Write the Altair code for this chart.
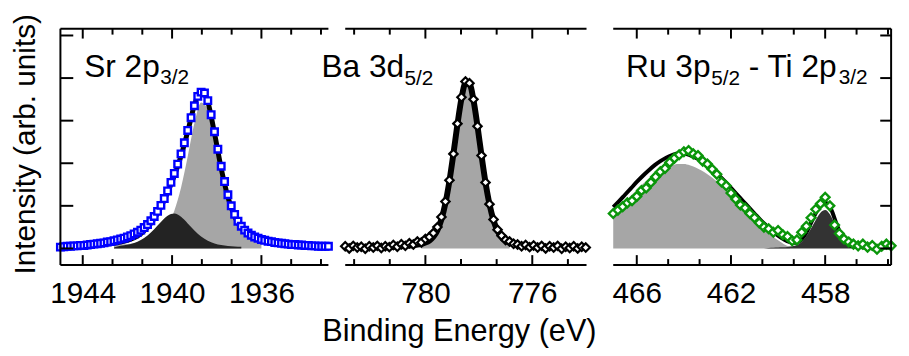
import altair as alt
import pandas as pd

FONT = "Liberation Sans"

# ---------------- data: binding-energy grids (start, step) and intensities (arb. units) ----------------
# Sr 2p3/2
SR_DATA_START, SR_DATA_STEP = 1945.0, 0.15
sr_data = [0.03, 0.04, 0.05, 0.05, 0.06, 0.06, 0.07, 0.07, 0.08, 0.09,
           0.10, 0.11, 0.12, 0.13, 0.15, 0.16, 0.18, 0.20, 0.22, 0.24,
           0.27, 0.30, 0.34, 0.38, 0.43, 0.49, 0.56, 0.65, 0.75, 0.87,
           1.01, 1.17, 1.35, 1.55, 1.76, 1.98, 2.22, 2.48, 2.77, 3.07,
           3.35, 3.57, 3.67, 3.65, 3.47, 3.14, 2.74, 2.33, 1.93, 1.57,
           1.26, 1.00, 0.80, 0.64, 0.52, 0.43, 0.36, 0.31, 0.27, 0.24,
           0.21, 0.19, 0.17, 0.16, 0.14, 0.13, 0.12, 0.11, 0.10, 0.09,
           0.09, 0.08, 0.08, 0.07, 0.07, 0.06, 0.06, 0.05, 0.05, 0.05, 0.05]
SR_FIT_START, SR_FIT_STEP = 1942.9, 0.3
sr_fit = [0.104, 0.123, 0.150, 0.190, 0.251, 0.346, 0.492, 0.697, 0.972, 1.312,
          1.706, 2.170, 2.746, 3.360, 3.705, 3.445, 2.704, 1.879, 1.208, 0.750,
          0.477, 0.325, 0.240, 0.187, 0.155, 0.129, 0.110, 0.095, 0.082, 0.073,
          0.064, 0.057, 0.051, 0.047]
SR_MAIN_START, SR_MAIN_STEP = 1942.6, 0.3
sr_main = [0.075, 0.088, 0.103, 0.122, 0.147, 0.186, 0.245, 0.351, 0.545, 0.886,
           1.427, 2.159, 2.939, 3.424, 3.263, 2.586, 1.798, 1.149, 0.704, 0.440,
           0.294, 0.214, 0.164]
SR_SEC_START, SR_SEC_STEP = 1942.6, 0.3
sr_sec = [0.02, 0.062, 0.087, 0.129, 0.199, 0.306, 0.452, 0.621, 0.767, 0.820,
          0.743, 0.587, 0.421, 0.281, 0.182, 0.118, 0.081, 0.059, 0.046, 0.037]

# Ba 3d5/2
BA_DATA_START, BA_DATA_STEP = 783.0, 0.15
ba_data = [0.05, 0.00, 0.06, 0.02, 0.04, -0.01, 0.05, 0.02, 0.06, 0.01,
           0.05, 0.03, 0.08, 0.04, 0.10, 0.06, 0.12, 0.09, 0.16, 0.14,
           0.22, 0.27, 0.36, 0.50, 0.74, 1.10, 1.60, 2.22, 2.93, 3.55,
           3.92, 3.88, 3.50, 2.87, 2.18, 1.55, 1.04, 0.68, 0.44, 0.30,
           0.20, 0.16, 0.11, 0.09, 0.05, 0.08, 0.03, 0.07, 0.02, 0.06,
           0.00, 0.05, 0.02, 0.06, -0.01, 0.04, 0.01, 0.05, 0.00, 0.04, 0.02]
BA_FIT_START, BA_FIT_STEP = 781.5, 0.15
ba_fit = [0.034, 0.037, 0.041, 0.046, 0.051, 0.058, 0.065, 0.076, 0.088, 0.107,
          0.136, 0.186, 0.276, 0.429, 0.681, 1.063, 1.586, 2.228, 2.915, 3.517,
          3.877, 3.863, 3.483, 2.870, 2.183, 1.548, 1.033, 0.661, 0.416, 0.267,
          0.182, 0.134, 0.105, 0.087, 0.074, 0.065, 0.057, 0.051, 0.045, 0.041, 0.037]
BA_MAIN_START, BA_MAIN_STEP = 780.15, 0.15
ba_main = [0.107, 0.136, 0.186, 0.276, 0.429, 0.681, 1.063, 1.586, 2.228, 2.915,
           3.517, 3.877, 3.863, 3.483, 2.870, 2.183, 1.548, 1.033, 0.661, 0.416,
           0.267, 0.182, 0.134]

# Ru 3p5/2 - Ti 2p3/2
RT_DATA_START, RT_DATA_STEP = 467.0, 0.2
rt_data = [0.82, 0.90, 0.98, 1.07, 1.12, 1.22, 1.36, 1.42, 1.55, 1.68,
           1.80, 1.88, 2.02, 2.12, 2.20, 2.27, 2.30, 2.22, 2.18, 2.05,
           1.98, 1.86, 1.74, 1.56, 1.47, 1.30, 1.16, 1.02, 0.95, 0.82,
           0.72, 0.60, 0.50, 0.46, 0.38, 0.42, 0.32, 0.28, 0.18, 0.20,
           0.38, 0.52, 0.72, 0.92, 1.05, 1.20, 1.00, 0.55, 0.35, 0.22,
           0.15, 0.10, 0.06, 0.10, 0.03, 0.07, -0.02, 0.05, 0.10, 0.06]
RT_FIT_START, RT_FIT_STEP = 467.0, 0.25
rt_fit = [0.97, 1.11, 1.26, 1.41, 1.56, 1.70, 1.83, 1.95, 2.05, 2.13,
          2.19, 2.23, 2.23, 2.19, 2.13, 2.05, 1.95, 1.84, 1.71, 1.57,
          1.42, 1.27, 1.12, 0.97, 0.82, 0.67, 0.54, 0.415, 0.30, 0.21,
          0.15, 0.13, 0.22, 0.42, 0.72, 0.98, 1.08, 0.92, 0.55, 0.24,
          0.09, 0.04, 0.03, 0.02, 0.02, 0.02, 0.02, 0.02]
RU_START, RU_STEP = 467.0, 0.25
ru_main = [0.83, 0.96, 1.10, 1.24, 1.38, 1.51, 1.63, 1.74, 1.83, 1.90,
           1.95, 1.98, 1.98, 1.95, 1.90, 1.83, 1.74, 1.64, 1.52, 1.39,
           1.25, 1.11, 0.97, 0.83, 0.69, 0.55, 0.42, 0.30, 0.19, 0.10, 0.04]
TI_START, TI_STEP = 460.6, 0.2
ti_main = [0.0, 0.01, 0.015, 0.02, 0.025, 0.035, 0.05, 0.08, 0.15, 0.29,
           0.47, 0.67, 0.84, 0.90, 0.80, 0.58, 0.34, 0.16, 0.06, 0.02, 0.01]

# axis ticks / labels
sr_major = [1944, 1940, 1936]
sr_minor = [1942.667, 1941.333, 1938.667, 1937.333, 1934.667, 1933.333]
ba_major = [780, 776]
ba_minor = [782.667, 781.333, 778.667, 777.333, 774.667]
rt_major = [466, 462, 458]
rt_minor = [464.667, 463.333, 460.667, 459.333, 456.667, 455.333]
y_ticks = [0, 1, 2, 3, 4, 5]

# ---------------- helpers ----------------
H = 239
YS = alt.Scale(domain=[-0.39, 5.16], nice=False, zero=False)
GREY = "#a6a6a6"


def series(start, step, vals):
    return pd.DataFrame({"be": [round(start - i * step, 4) for i in range(len(vals))], "I": vals})


def one():
    return pd.DataFrame({"k": [0]})


def panel(width, frame_w, domain, major, minor, areas, fit, fit_w, pts, pt_shape, pt_size,
          pt_color, pt_sw, texts, left_axis=False, right_axis=False, xtitle=None, title_x=0):
    xs = alt.Scale(domain=domain, nice=False, zero=False)
    ax = dict(values=major, format="d", domain=False, ticks=False, grid=False, labelFont=FONT,
              labelFontSize=30, labelColor="black", labelPadding=38,
              labelBaseline="alphabetic", labelFlush=False, labelOverlap=False, labelAngle=0)
    if xtitle:
        ax.update(title=xtitle, titleFont=FONT, titleFontSize=31, titleFontWeight="normal",
                  titleColor="black", titleX=title_x, titleY=76, titleBaseline="alphabetic",
                  titleAlign="center")
    else:
        ax["title"] = None
    xaxis = alt.Axis(**ax)
    if left_axis:
        yaxis = alt.Axis(domain=False, ticks=False, labels=False, grid=False,
                         title="Intensity (arb. units)", titleFont=FONT, titleFontSize=30,
                         titleFontWeight="normal", titleColor="black", titleX=-26,
                         titleY=H / 2 - 3, titleBaseline="alphabetic", titleAlign="center",
                         titleAngle=270)
    else:
        yaxis = None

    def X(f):
        return alt.X(f, type="quantitative", scale=xs, axis=xaxis)

    def Y(f):
        return alt.Y(f, type="quantitative", scale=YS, axis=yaxis)

    layers = []
    for df, col in areas:
        layers.append(alt.Chart(df).mark_area(color=col, interpolate="monotone", opacity=1)
                      .encode(x=X("be"), y=Y("I")))
    layers.append(alt.Chart(fit).mark_line(color="black", strokeWidth=fit_w, interpolate="monotone")
                  .encode(x=X("be"), y=Y("I")))
    layers.append(alt.Chart(pts).mark_point(shape=pt_shape, size=pt_size, filled=True, fill="white",
                                            stroke=pt_color, strokeWidth=pt_sw, opacity=1)
                  .encode(x=X("be"), y=Y("I")))
    # frame lines
    rule = dict(color="black", strokeWidth=2)
    layers.append(alt.Chart(one()).mark_rule(**rule).encode(
        x=alt.value(0), x2=alt.value(frame_w), y=alt.value(0)))
    layers.append(alt.Chart(one()).mark_rule(**rule).encode(
        x=alt.value(0), x2=alt.value(frame_w), y=alt.value(H)))
    if left_axis:
        layers.append(alt.Chart(one()).mark_rule(**rule).encode(
            x=alt.value(0), y=alt.value(0), y2=alt.value(H)))
        layers.append(alt.Chart(pd.DataFrame({"v": y_ticks})).mark_rule(**rule).encode(
            y=Y("v"), x=alt.value(0), x2=alt.value(13)))
    if right_axis:
        layers.append(alt.Chart(one()).mark_rule(**rule).encode(
            x=alt.value(width), y=alt.value(0), y2=alt.value(H)))
        layers.append(alt.Chart(pd.DataFrame({"v": y_ticks})).mark_rule(**rule).encode(
            y=Y("v"), x=alt.value(width - 11), x2=alt.value(width)))
    # x ticks (inward) on bottom and top
    for vals, ln in ((major, 10), (minor, 6)):
        tdf = pd.DataFrame({"v": vals})
        layers.append(alt.Chart(tdf).mark_rule(**rule).encode(
            x=X("v"), y=alt.value(H), y2=alt.value(H - ln)))
        layers.append(alt.Chart(tdf).mark_rule(**rule).encode(
            x=X("v"), y=alt.value(0), y2=alt.value(ln)))
    # panel labels
    for txt, tx, ty, fs in texts:
        layers.append(alt.Chart(one()).mark_text(align="left", baseline="alphabetic", font=FONT,
                                                 fontSize=fs, color="black")
                      .encode(x=alt.value(tx), y=alt.value(ty), text=alt.value(txt)))
    return alt.layer(*layers).properties(width=width, height=H)


p1 = panel(271, 271, [1945.0, 1933.0], sr_major, sr_minor,
           [(series(SR_MAIN_START, SR_MAIN_STEP, sr_main), GREY),
            (series(SR_SEC_START, SR_SEC_STEP, sr_sec), "#232323")],
           series(SR_FIT_START, SR_FIT_STEP, sr_fit), 5,
           series(SR_DATA_START, SR_DATA_STEP, sr_data), "square", 44, "#0000ff", 2.4,
           [("Sr 2p", 24, 49, 32), ("3/2", 101, 56, 21)], left_axis=True)

p2 = panel(254, 244, [783.0, 773.6], ba_major, ba_minor,
           [(series(BA_MAIN_START, BA_MAIN_STEP, ba_main), GREY)],
           series(BA_FIT_START, BA_FIT_STEP, ba_fit), 6,
           series(BA_DATA_START, BA_DATA_STEP, ba_data), "diamond", 72, "black", 2.2,
           [("Ba 3d", -24, 49, 32), ("5/2", 60, 57, 21)],
           xtitle="Binding Energy (eV)", title_x=115)

p3 = panel(281, 281, [467.0, 455.2], rt_major, rt_minor,
           [(series(RU_START, RU_STEP, ru_main), GREY),
            (series(TI_START, TI_STEP, ti_main), "#333333")],
           series(RT_FIT_START, RT_FIT_STEP, rt_fit), 4,
           series(RT_DATA_START, RT_DATA_STEP, rt_data), "diamond", 78, "#0a960a", 2.4,
           [("Ru 3p", 13, 49, 32), ("5/2", 99, 57, 21), ("- Ti 2p", 137, 49, 32),
            ("3/2", 228, 56, 21)], right_axis=True)

chart = (alt.hconcat(p1, p2, p3, spacing=17, bounds="flush")
         .properties(padding={"left": 2, "top": 3, "right": 0, "bottom": 0})
         .configure_view(stroke=None))

chart.save("out.html", embed_options={"renderer": "svg", "actions": False})
